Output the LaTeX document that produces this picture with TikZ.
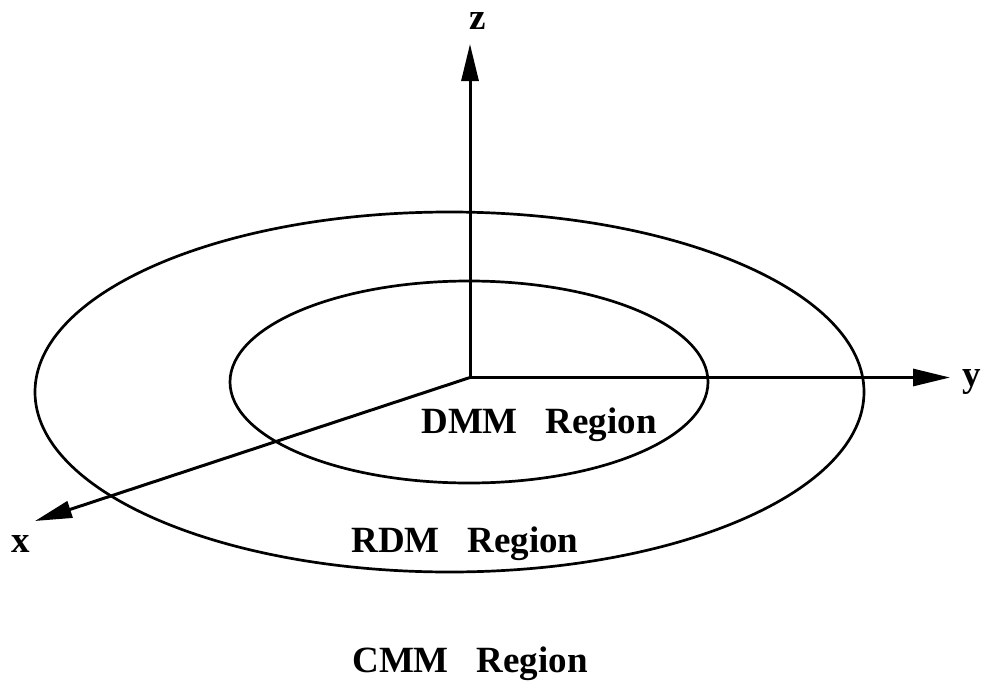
\documentclass[tikz,border=0pt]{standalone}
\usepackage{fontspec}
\setmainfont{Liberation Serif}
\usetikzlibrary{arrows.meta}
\begin{document}
\begin{tikzpicture}[x=1pt, y=-1pt,
    axis/.style={line width=3pt, -{Triangle[length=37pt, width=17pt]}},
    region/.style={line width=2.7pt},
    lbl/.style={font=\fontsize{37}{44}\selectfont\bfseries, inner sep=0pt, anchor=base}]
    \useasboundingbox (0,0) rectangle (986,696);

    % Axes
    \coordinate (O) at (470,377.5);
    \coordinate (ztip) at (470,44);
    \coordinate (ytip) at (950,377.5);
    \coordinate (xtip) at (35,521);
    \draw[axis] (O) -- (ztip);
    \draw[axis] (O) -- (ytip);
    \draw[axis] (O) -- (xtip);

    % Axis labels
    \node[lbl] (zlab) at (478,30) {z};
    \node[lbl] (ylab) at (972,386) {y};
    \node[lbl] (xlab) at (21,552) {x};

    % Regions
    \draw[region] (449.5,392) ellipse [x radius=414.5pt, y radius=180pt];
    \draw[region] (469,382) ellipse [x radius=239pt, y radius=101pt];

    % Region names
    \node[lbl] (dmm) at (539,433) {DMM\hspace{0.75em}Region};
    \node[lbl] (rdm) at (465,552) {RDM\hspace{0.75em}Region};
    \node[lbl] (cmm) at (470,672) {CMM\hspace{0.75em}Region};
\end{tikzpicture}
\end{document}
